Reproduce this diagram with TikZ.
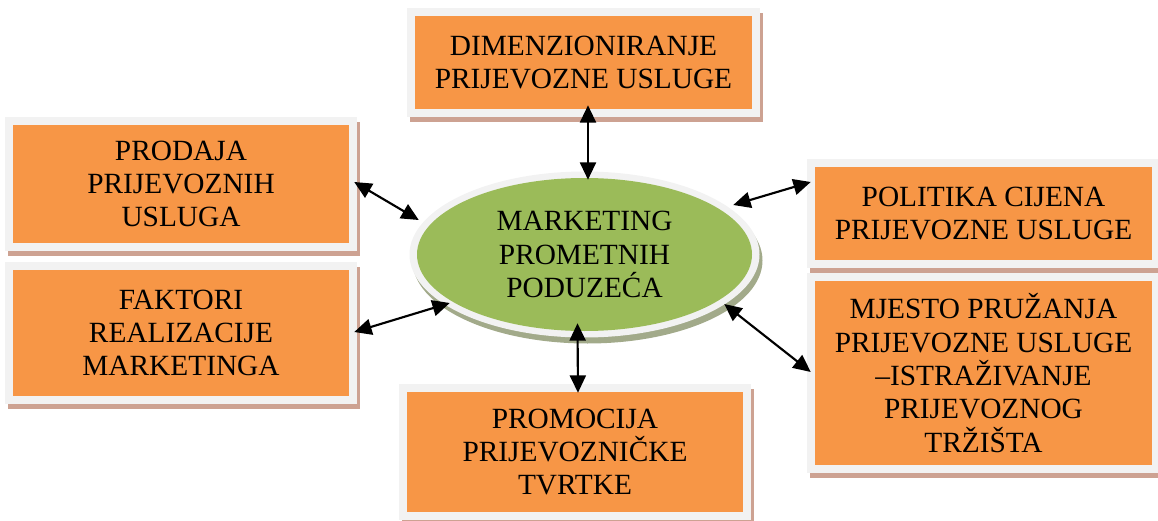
\documentclass[tikz,border=0pt]{standalone}
\usepackage{fontspec}
\setmainfont{Liberation Serif}
\usetikzlibrary{arrows.meta,shapes.geometric,calc,backgrounds}
\definecolor{orangeC}{RGB}{247,150,70}
\definecolor{greenC}{RGB}{155,187,89}
\definecolor{frameC}{RGB}{242,242,242}
\definecolor{shadowC}{RGB}{205,162,146}
\definecolor{eshadowC}{RGB}{162,170,138}
\newdimen\pxu \pxu=0.75pt
\begin{document}
\begin{tikzpicture}[x=0.75pt,y=-0.75pt,
  box/.style={fill=orangeC, inner sep=0pt, align=center, font=\fontsize{22}{25}\selectfont},
  hub/.style={ellipse, fill=greenC, inner sep=0pt, align=center, font=\fontsize{22}{25}\selectfont,
    minimum width=335\pxu, minimum height=153\pxu},
  arr/.style={{Triangle[length=13pt,width=12pt]}-{Triangle[length=13pt,width=12pt]}, line width=1.6pt}]
\useasboundingbox (0,0) rectangle (1158,521);

\node[hub] (mkt) at (584.5,254.5) {MARKETING\\PROMETNIH\\PODUZEĆA};

\node[box, minimum width=337\pxu, minimum height=93\pxu] (dim) at (583.5,62.5) {DIMENZIONIRANJE\\PRIJEVOZNE USLUGE};
\node[box, minimum width=336\pxu, minimum height=118\pxu] (pro) at (181,184) {PRODAJA\\PRIJEVOZNIH\\USLUGA};
\node[box, minimum width=336\pxu, minimum height=126\pxu] (fak) at (181,333) {FAKTORI\\REALIZACIJE\\MARKETINGA};
\node[box, minimum width=337\pxu, minimum height=93\pxu] (pol) at (983.5,213.5) {POLITIKA CIJENA\\PRIJEVOZNE USLUGE};
\node[box, minimum width=337\pxu, minimum height=184\pxu] (mje) at (983.5,373) {MJESTO PRUŽANJA\\PRIJEVOZNE USLUGE\\–ISTRAŽIVANJE\\PRIJEVOZNOG\\TRŽIŠTA};
\node[box, minimum width=336\pxu, minimum height=120\pxu] (promo) at (575,452) {PROMOCIJA\\PRIJEVOZNIČKE\\TVRTKE};

\begin{scope}[on background layer]
  \foreach \n in {dim,pro,fak,pol,mje,promo}{
    \fill[shadowC] ($(\n.north west)+(-5,-3)$) rectangle ($(\n.south east)+(11,13)$);
    \fill[frameC] ($(\n.north west)+(-8,-8)$) rectangle ($(\n.south east)+(8,8)$);
  }
  \fill[eshadowC] ($(mkt.center)+(3,6)$) ellipse [x radius=175, y radius=83];
  \fill[frameC] (mkt.center) ellipse [x radius=175, y radius=83];
\end{scope}

\draw[arr] ($(dim.south)+(4.5,-4)$) -- ($(mkt.north)+(3.5,2)$);
\draw[arr] ($(mkt.south)+(-7,-8)$) -- ($(promo.north)+(3,1)$);
\draw[arr] ($(pro.east)+(5,-2)$) -- ($(mkt.west)+(2,-34.5)$);
\draw[arr] ($(fak.east)+(5,-1)$) -- ($(mkt.west)+(33,48.5)$);
\draw[arr] ($(mkt.east)+(-19,-49.5)$) -- ($(pol.west)+(-4,-31.5)$);
\draw[arr] ($(mkt.east)+(-28,49.5)$) -- ($(mje.west)+(-4,-1)$);
\end{tikzpicture}
\end{document}
